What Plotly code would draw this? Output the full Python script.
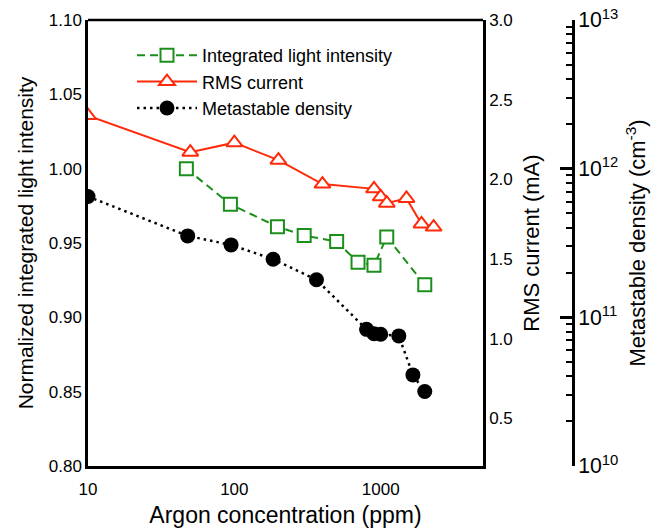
import plotly.graph_objects as go

# ---- data ----
light_x = [47, 94, 197, 300, 500, 700, 900, 1100, 2000]
light_y = [1.000, 0.976, 0.961, 0.955, 0.951, 0.937, 0.935, 0.954, 0.922]

rms_x = [10, 50, 100, 200, 400, 900, 1000, 1100, 1500, 1900, 2300]
rms_y = [2.40, 2.17, 2.23, 2.12, 1.97, 1.94, 1.89, 1.85, 1.88, 1.72, 1.70]

meta_x = [10, 48, 95, 184, 364, 800, 900, 1000, 1330, 1660, 2000]
meta_y = [6.5e11, 3.53e11, 3.07e11, 2.46e11, 1.79e11, 8.3e10, 7.75e10, 7.7e10, 7.5e10, 4.1e10, 3.17e10]

x_ticks = [10, 100, 1000]
rms_ticks = [0.5, 1.0, 1.5, 2.0, 2.5, 3.0]
names = ["Integrated light intensity", "RMS current", "Metastable density"]

GREEN = "#1b8f1b"
RED = "#ff2a0a"
BLACK = "#000000"
FONT = "Liberation Sans, Arial, Helvetica, sans-serif"

fig = go.Figure()
fig.add_trace(go.Scatter(
    x=light_x, y=light_y, name=names[0], legendgroup="a", yaxis="y",
    mode="lines+markers",
    line=dict(color=GREEN, width=2, dash="8px,5px"),
    marker=dict(symbol="square", size=13, color="white", line=dict(color=GREEN, width=2)),
))
fig.add_trace(go.Scatter(
    x=rms_x, y=rms_y, name=names[1], legendgroup="b", yaxis="y2",
    mode="lines+markers",
    line=dict(color=RED, width=2),
    marker=dict(symbol="triangle-up", size=14, color="white", line=dict(color=RED, width=2)),
))
fig.add_trace(go.Scatter(
    x=meta_x, y=meta_y, name=names[2], legendgroup="c", yaxis="y3",
    mode="lines+markers",
    line=dict(color=BLACK, width=2.5, dash="2.5px,4px"),
    marker=dict(symbol="circle", size=15, color=BLACK),
))

L, R, T, B = 88, 94, 20, 62
W, H = 667, 528
plot_w = W - L - R
xdom = (483 - L) / plot_w
xrange_log = [1, 3.699]
yrange_left = [0.80, 1.10]
yrange_rms = [0.2, 3.0]

axis_common = dict(
    showline=True, linecolor="black", linewidth=2.5,
    tickcolor="black", tickwidth=2.5,
    tickfont=dict(family=FONT, size=17, color="black"),
    showgrid=False, zeroline=False,
)
# helper axes that only draw the tick marks pointing into the plot
tick_only = dict(
    showline=False, showgrid=False, zeroline=False, showticklabels=False,
    ticks="outside", ticklen=12, tickwidth=2.5, tickcolor="black",
)
minor_out = dict(ticks="outside", ticklen=6, tickwidth=1.5, tickcolor="black")

fig.update_layout(
    template="none",
    width=W, height=H,
    margin=dict(l=L, r=R, t=T, b=B, autoexpand=False),
    paper_bgcolor="white", plot_bgcolor="rgba(0,0,0,0)",
    font=dict(family=FONT, color="black"),
    showlegend=True,
    legend=dict(
        x=(132 - L) / (483 - L) * xdom, y=0.962, xanchor="left", yanchor="top",
        bgcolor="rgba(0,0,0,0)", borderwidth=0,
        font=dict(family=FONT, size=18, color="black"),
        itemwidth=60, tracegroupgap=0,
    ),
    xaxis=dict(
        **axis_common, ticks="",
        type="log", range=xrange_log, domain=[0, xdom],
        tickvals=x_ticks, ticktext=[str(v) for v in x_ticks],
        ticklabelstandoff=6,
        title=dict(text="Argon concentration (ppm)", font=dict(family=FONT, size=23), standoff=12),
    ),
    # bottom tick marks (pointing up into the plot)
    xaxis3=dict(
        **tick_only,
        overlaying="x", anchor="free", position=0, side="top",
        type="log", range=xrange_log, domain=[0, xdom], tickvals=x_ticks,
        minor=dict(**minor_out, dtick="D1"),
    ),
    # top tick marks (pointing down into the plot)
    xaxis2=dict(
        **tick_only,
        overlaying="x", anchor="free", position=1, side="bottom",
        type="log", range=xrange_log, domain=[0, xdom], tickvals=x_ticks,
        minor=dict(**minor_out, dtick="D1"),
    ),
    yaxis=dict(
        **axis_common, ticks="",
        range=yrange_left, dtick=0.05, tickformat=".2f",
        title=dict(text="Normalized integrated light intensity", font=dict(family=FONT, size=21), standoff=10),
    ),
    yaxis4=dict(
        **tick_only,
        overlaying="y", side="right", anchor="free", position=0,
        range=yrange_left, dtick=0.05,
        minor=dict(**minor_out, dtick=0.01),
    ),
    yaxis2=dict(
        **axis_common, ticks="",
        overlaying="y", side="right", anchor="x",
        range=yrange_rms, tickvals=rms_ticks, ticktext=["%.1f" % v for v in rms_ticks],
        title=dict(text="RMS current (mA)", font=dict(family=FONT, size=22), standoff=12),
    ),
    yaxis5=dict(
        **tick_only,
        overlaying="y", side="left", anchor="free", position=xdom,
        range=yrange_rms, tickvals=rms_ticks,
        minor=dict(**minor_out, dtick=0.1, tick0=0),
    ),
    yaxis3=dict(
        **axis_common, ticks="inside",
        overlaying="y", side="right", anchor="free", position=1.0,
        type="log", range=[10, 13], dtick=1, exponentformat="power", ticklen=12,
        minor=dict(ticks="inside", ticklen=6, tickwidth=1.5, tickcolor="black", dtick="D1"),
        title=dict(text="Metastable density (cm<sup>-3</sup>)", font=dict(family=FONT, size=22), standoff=12),
    ),
)
# top edge of the frame
fig.add_shape(type="line", xref="x domain", yref="y domain", x0=0, x1=1, y0=1, y1=1,
              line=dict(color="black", width=2.5), layer="above")

fig.write_html("out.html")
